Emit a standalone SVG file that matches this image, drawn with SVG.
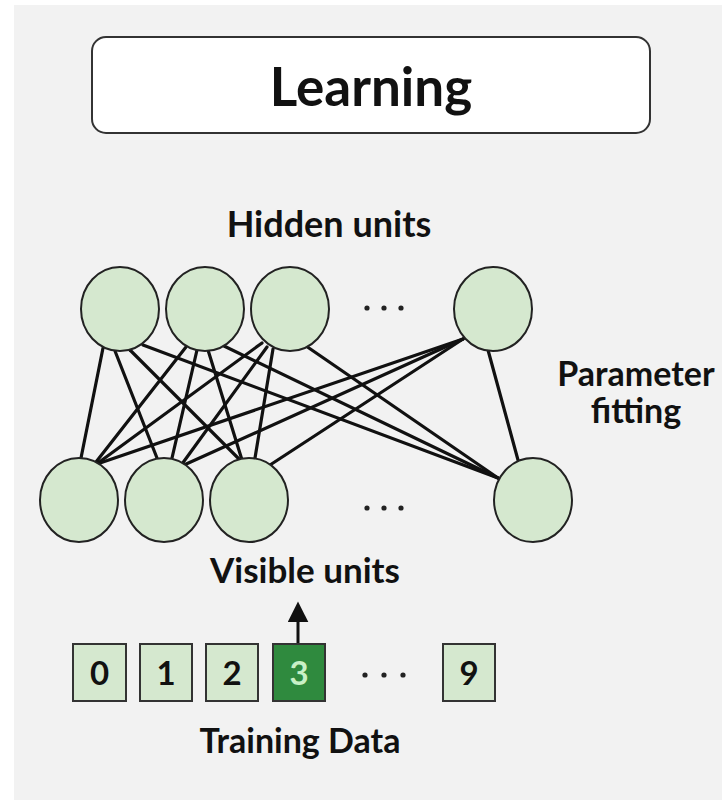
<svg xmlns="http://www.w3.org/2000/svg" width="722" height="800" viewBox="0 0 722 800">
  <defs>
    <style>
      .lbl { font-family: Lato, "Noto Sans", "DejaVu Sans", sans-serif; font-weight: 700; fill: #111; text-anchor: middle; }
      .unit { fill: #d5e8cf; stroke: #222; stroke-width: 2; }
      .cell { fill: #d5e8cf; stroke: #333; stroke-width: 2; }
      .cell-on { fill: #2f8a3e; stroke: #333; stroke-width: 2; }
      .digit { font-family: Lato, "Noto Sans", "DejaVu Sans", sans-serif; font-weight: 700; font-size: 33px; text-anchor: middle; fill: #111; }
      .edge { stroke: #111; stroke-width: 3.2; stroke-linecap: round; }
      .dot { fill: #222; }
    </style>
    <marker id="arrowhead" viewBox="0 0 10 10" refX="4" refY="5" markerWidth="7" markerHeight="7" orient="auto" markerUnits="strokeWidth">
      <path d="M0,0 L10,5 L0,10 z" fill="#111"/>
    </marker>
  </defs>

  <!-- page background -->
  <rect x="0" y="0" width="722" height="800" fill="#ffffff"/>
  <rect x="14" y="5" width="708" height="795" fill="#f2f2f2"/>

  <!-- title -->
  <g id="title">
    <rect x="92" y="37" width="558" height="96" rx="14" ry="14" fill="#ffffff" stroke="#333" stroke-width="2"/>
    <text class="lbl" x="371" y="106" font-size="53">Learning</text>
  </g>

  <text id="hidden-label" class="lbl" x="329" y="237" font-size="36">Hidden units</text>
  <text id="fit-label-1" class="lbl" x="636" y="386" font-size="34">Parameter</text>
  <text id="fit-label-2" class="lbl" x="636" y="423" font-size="34">fitting</text>
  <text id="visible-label" class="lbl" x="305" y="583" font-size="35">Visible units</text>
  <text id="data-label" class="lbl" x="300" y="753" font-size="34">Training Data</text>

  <!-- weights between hidden and visible layers -->
  <g id="connectors">
    <line class="edge" x1="103" y1="348" x2="81" y2="458"/>
    <line class="edge" x1="115" y1="351" x2="157" y2="458"/>
    <line class="edge" x1="130" y1="350" x2="240" y2="460"/>
    <line class="edge" x1="143" y1="345" x2="498" y2="478"/>

    <line class="edge" x1="186" y1="347" x2="96" y2="462"/>
    <line class="edge" x1="197" y1="350" x2="172" y2="458"/>
    <line class="edge" x1="208" y1="350" x2="242" y2="460"/>
    <line class="edge" x1="224" y1="346" x2="498" y2="478"/>

    <line class="edge" x1="262" y1="343" x2="98" y2="463"/>
    <line class="edge" x1="267" y1="347" x2="182" y2="464"/>
    <line class="edge" x1="273" y1="349" x2="255" y2="458"/>
    <line class="edge" x1="306" y1="346" x2="498" y2="478"/>

    <line class="edge" x1="463" y1="339" x2="100" y2="463"/>
    <line class="edge" x1="463" y1="339" x2="184" y2="465"/>
    <line class="edge" x1="463" y1="339" x2="270" y2="465"/>
    <line class="edge" x1="488" y1="350" x2="518" y2="460"/>

    <!-- input to visible layer -->
    <line x1="298" y1="644" x2="298" y2="614" stroke="#111" stroke-width="3" marker-end="url(#arrowhead)"/>
  </g>

  <!-- hidden layer -->
  <g id="h1"><ellipse class="unit" cx="120" cy="309" rx="39" ry="42"/></g>
  <g id="h2"><ellipse class="unit" cx="205" cy="309" rx="39" ry="42"/></g>
  <g id="h3"><ellipse class="unit" cx="290" cy="309" rx="39" ry="42"/></g>
  <g id="h-more">
    <circle class="dot" cx="367" cy="308" r="2.6"/>
    <circle class="dot" cx="384" cy="308" r="2.6"/>
    <circle class="dot" cx="401" cy="308" r="2.6"/>
  </g>
  <g id="hn"><ellipse class="unit" cx="493" cy="309" rx="39" ry="42"/></g>

  <!-- visible layer -->
  <g id="v1"><ellipse class="unit" cx="79" cy="500" rx="39" ry="42"/></g>
  <g id="v2"><ellipse class="unit" cx="164" cy="500" rx="39" ry="42"/></g>
  <g id="v3"><ellipse class="unit" cx="249" cy="500" rx="39" ry="42"/></g>
  <g id="v-more">
    <circle class="dot" cx="367" cy="508" r="2.6"/>
    <circle class="dot" cx="384" cy="508" r="2.6"/>
    <circle class="dot" cx="401" cy="508" r="2.6"/>
  </g>
  <g id="vn"><ellipse class="unit" cx="533" cy="500" rx="39" ry="42"/></g>

  <!-- training samples -->
  <g id="d0"><rect class="cell" x="73" y="644" width="53" height="57"/><text class="digit" x="99.5" y="685">0</text></g>
  <g id="d1"><rect class="cell" x="140" y="644" width="52" height="57"/><text class="digit" x="166" y="685">1</text></g>
  <g id="d2"><rect class="cell" x="206" y="644" width="52" height="57"/><text class="digit" x="232" y="685">2</text></g>
  <g id="d3"><rect class="cell-on" x="273" y="644" width="52" height="57"/><text class="digit" x="299" y="685" style="fill:#c8f0c6">3</text></g>
  <g id="d-more">
    <circle class="dot" cx="365" cy="675" r="2.6"/>
    <circle class="dot" cx="384" cy="675" r="2.6"/>
    <circle class="dot" cx="403" cy="675" r="2.6"/>
  </g>
  <g id="d9"><rect class="cell" x="443" y="644" width="52" height="57"/><text class="digit" x="469" y="685">9</text></g>
</svg>
